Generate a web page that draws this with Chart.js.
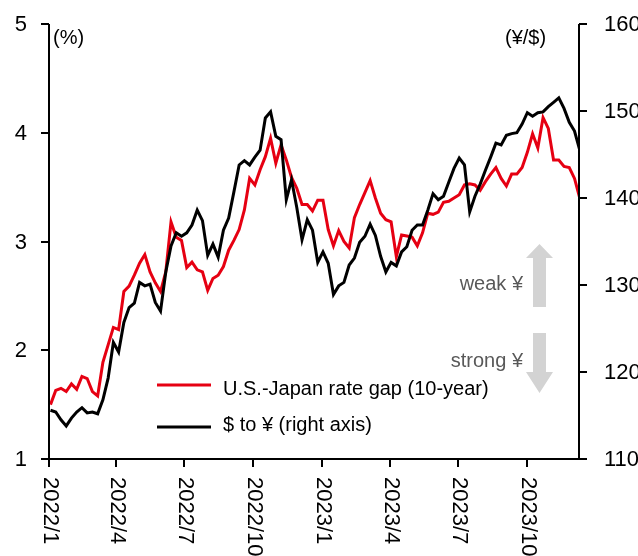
<!DOCTYPE html>
<html><head><meta charset="utf-8">
<script src="https://cdn.jsdelivr.net/npm/chart.js@4/dist/chart.umd.min.js"></script>
<style>html,body{margin:0;padding:0;background:#fff}#wrap{width:638px;height:556px;position:relative}</style>
</head><body><div id="wrap"><canvas id="c" width="638" height="556"></canvas></div>
<script>
// weekly observation dates (Mondays)
const weeks = [
"2022-01-03","2022-01-10","2022-01-17","2022-01-24","2022-01-31","2022-02-07","2022-02-14","2022-02-21","2022-02-28","2022-03-07",
"2022-03-14","2022-03-21","2022-03-28","2022-04-04","2022-04-11","2022-04-18","2022-04-25","2022-05-02","2022-05-09","2022-05-16",
"2022-05-23","2022-05-30","2022-06-06","2022-06-13","2022-06-20","2022-06-27","2022-07-04","2022-07-11","2022-07-18","2022-07-25",
"2022-08-01","2022-08-08","2022-08-15","2022-08-22","2022-08-29","2022-09-05","2022-09-12","2022-09-19","2022-09-26","2022-10-03",
"2022-10-10","2022-10-17","2022-10-24","2022-10-31","2022-11-07","2022-11-14","2022-11-21","2022-11-28","2022-12-05","2022-12-12",
"2022-12-19","2022-12-26","2023-01-02","2023-01-09","2023-01-16","2023-01-23","2023-01-30","2023-02-06","2023-02-13","2023-02-20",
"2023-02-27","2023-03-06","2023-03-13","2023-03-20","2023-03-27","2023-04-03","2023-04-10","2023-04-17","2023-04-24","2023-05-01",
"2023-05-08","2023-05-15","2023-05-22","2023-05-29","2023-06-05","2023-06-12","2023-06-19","2023-06-26","2023-07-03","2023-07-10",
"2023-07-17","2023-07-24","2023-07-31","2023-08-07","2023-08-14","2023-08-21","2023-08-28","2023-09-04","2023-09-11","2023-09-18",
"2023-09-25","2023-10-02","2023-10-09","2023-10-16","2023-10-23","2023-10-30","2023-11-06","2023-11-13","2023-11-20","2023-11-27",
"2023-12-04","2023-12-11"];

// U.S.-Japan 10-year rate gap (%), left axis
const rateGap = [
1.50,1.63,1.65,1.62,1.69,1.64,1.76,1.74,1.62,1.58,
1.89,2.05,2.21,2.19,2.54,2.59,2.69,2.80,2.88,2.72,
2.62,2.54,2.72,3.18,3.04,3.01,2.76,2.81,2.74,2.72,
2.55,2.66,2.69,2.77,2.92,3.01,3.11,3.29,3.58,3.52,
3.66,3.78,3.95,3.72,3.89,3.75,3.59,3.49,3.34,3.34,
3.28,3.38,3.38,3.11,2.96,3.10,3.00,2.94,3.22,3.34,
3.45,3.56,3.40,3.26,3.20,3.18,2.86,3.06,3.05,3.04,
2.96,3.08,3.26,3.25,3.27,3.36,3.37,3.40,3.43,3.52,
3.53,3.52,3.47,3.55,3.62,3.68,3.58,3.51,3.62,3.62,
3.68,3.82,3.99,3.86,4.14,4.04,3.75,3.75,3.69,3.68,
3.58,3.40];

// USD/JPY (yen per dollar), right axis
const usdJpy = [
115.6,115.4,114.5,113.8,114.7,115.4,115.9,115.3,115.4,115.2,
116.8,119.3,123.4,122.3,125.7,127.4,127.9,130.3,129.9,130.1,
128.0,127.0,131.5,134.5,136.0,135.6,136.0,136.9,138.6,137.4,
133.4,134.7,133.2,136.3,137.7,140.7,143.8,144.3,143.8,144.7,
145.5,149.2,149.9,147.1,146.7,139.8,142.1,138.9,135.2,137.5,
136.3,132.6,133.8,132.5,128.9,129.9,130.3,132.3,133.1,134.9,
135.6,137.0,135.7,133.3,131.5,132.6,132.2,133.8,134.4,136.3,
136.9,136.9,138.6,140.5,139.8,140.2,141.8,143.4,144.6,143.8,
138.4,140.2,141.6,143.2,144.7,146.3,146.1,147.2,147.4,147.5,
148.5,149.8,149.4,149.8,149.9,150.5,151.0,151.5,150.3,148.7,
147.7,145.5];

const tickDates = ["2022-01-01","2022-04-01","2022-07-01","2022-10-01","2023-01-01","2023-04-01","2023-07-01","2023-10-01"];
const tickLabels = ["2022/1","2022/4","2022/7","2022/10","2023/1","2023/4","2023/7","2023/10"];
const leftTicks = [1,2,3,4,5];
const rightTicks = [110,120,130,140,150,160];
const seriesNames = ["U.S.-Japan rate gap (10-year)", "$ to \u00a5 (right axis)"];
const leftUnit = "(%)";
const rightUnit = "(\u00a5/$)";
const arrowTexts = ["weak \u00a5", "strong \u00a5"];

function dayOf(s){const p=s.split('-').map(Number);return (Date.UTC(p[0],p[1]-1,p[2])-Date.UTC(2022,0,1))/86400000;}

const RED = '#e60012';
const FONT = '"Liberation Sans", Arial, sans-serif';

const decor = {
  id: 'decor',
  afterDraw(chart){
    const ctx = chart.ctx;
    const x = chart.scales.x, yL = chart.scales.yL, yR = chart.scales.yR;
    const a = chart.chartArea;
    ctx.save();
    ctx.strokeStyle = '#000'; ctx.lineWidth = 2; ctx.lineCap='butt';
    // axes
    ctx.beginPath();
    ctx.moveTo(a.left, a.top); ctx.lineTo(a.left, a.bottom);
    ctx.moveTo(a.left-1, a.bottom); ctx.lineTo(a.right+1, a.bottom);
    ctx.moveTo(a.right, a.top); ctx.lineTo(a.right, a.bottom);
    ctx.stroke();
    ctx.fillStyle = '#000';
    ctx.font = '22px ' + FONT;
    // left ticks
    ctx.textAlign='right'; ctx.textBaseline='middle';
    leftTicks.forEach(v=>{
      const py = Math.round(yL.getPixelForValue(v));
      ctx.beginPath(); ctx.moveTo(a.left-8, py); ctx.lineTo(a.left, py); ctx.stroke();
      ctx.fillText(String(v), a.left-22, py+1);
    });
    // right ticks
    ctx.textAlign='left';
    rightTicks.forEach(v=>{
      const py = Math.round(yR.getPixelForValue(v));
      ctx.beginPath(); ctx.moveTo(a.right, py); ctx.lineTo(a.right+8, py); ctx.stroke();
      ctx.fillText(String(v), a.right+25, py+1);
    });
    // x ticks + rotated labels
    tickDates.forEach((d,i)=>{
      const px = Math.round(x.getPixelForValue(dayOf(d)));
      ctx.beginPath(); ctx.moveTo(px, a.bottom); ctx.lineTo(px, a.bottom+8); ctx.stroke();
      ctx.save();
      ctx.translate(px+1, a.bottom+18);
      ctx.rotate(Math.PI/2);
      ctx.textAlign='left'; ctx.textBaseline='middle';
      ctx.fillText(tickLabels[i], 0, 0);
      ctx.restore();
    });
    // units
    ctx.font = '20px ' + FONT;
    ctx.textAlign='left'; ctx.textBaseline='middle';
    ctx.fillText(leftUnit, 53, 38);
    ctx.fillText(rightUnit, 505, 38);
    // legend
    ctx.lineWidth = 3;
    ctx.strokeStyle = RED;
    ctx.beginPath(); ctx.moveTo(157, 385); ctx.lineTo(211, 385); ctx.stroke();
    ctx.strokeStyle = '#000';
    ctx.beginPath(); ctx.moveTo(157, 427); ctx.lineTo(211, 427); ctx.stroke();
    ctx.fillStyle = '#000';
    ctx.fillText(seriesNames[0], 223, 389);
    ctx.fillText(seriesNames[1], 223, 425);
    // arrows
    ctx.fillStyle = '#d3d3d3';
    ctx.beginPath();
    ctx.moveTo(539.5, 244); ctx.lineTo(553, 258); ctx.lineTo(546, 258); ctx.lineTo(546, 307);
    ctx.lineTo(533, 307); ctx.lineTo(533, 258); ctx.lineTo(526, 258); ctx.closePath(); ctx.fill();
    ctx.beginPath();
    ctx.moveTo(533, 333); ctx.lineTo(546, 333); ctx.lineTo(546, 372); ctx.lineTo(553, 372);
    ctx.lineTo(539.5, 393); ctx.lineTo(526, 372); ctx.lineTo(533, 372); ctx.closePath(); ctx.fill();
    ctx.fillStyle = '#595959';
    ctx.textAlign='right';
    ctx.fillText(arrowTexts[0], 523, 284);
    ctx.fillText(arrowTexts[1], 523, 361);
    ctx.restore();
  }
};

new Chart(document.getElementById('c'), {
  type: 'line',
  data: {
    datasets: [
      { label: seriesNames[0], data: weeks.map((w,i)=>({x: dayOf(w), y: rateGap[i]})),
        yAxisID: 'yL', borderColor: RED, borderWidth: 3, pointRadius: 0, tension: 0, order: 2 },
      { label: seriesNames[1], data: weeks.map((w,i)=>({x: dayOf(w), y: usdJpy[i]})),
        yAxisID: 'yR', borderColor: '#000', borderWidth: 3, pointRadius: 0, tension: 0, order: 1 }
    ]
  },
  options: {
    responsive: false, animation: false, devicePixelRatio: 1,
    layout: { padding: { left: 49, right: 59, top: 24, bottom: 97 } },
    scales: {
      x: { type: 'linear', min: 0, max: 708, display: false },
      yL: { type: 'linear', position: 'left', min: 1, max: 5, display: false },
      yR: { type: 'linear', position: 'right', min: 110, max: 160, display: false }
    },
    plugins: { legend: { display: false }, tooltip: { enabled: false } }
  },
  plugins: [decor]
});
</script>
</body></html>
